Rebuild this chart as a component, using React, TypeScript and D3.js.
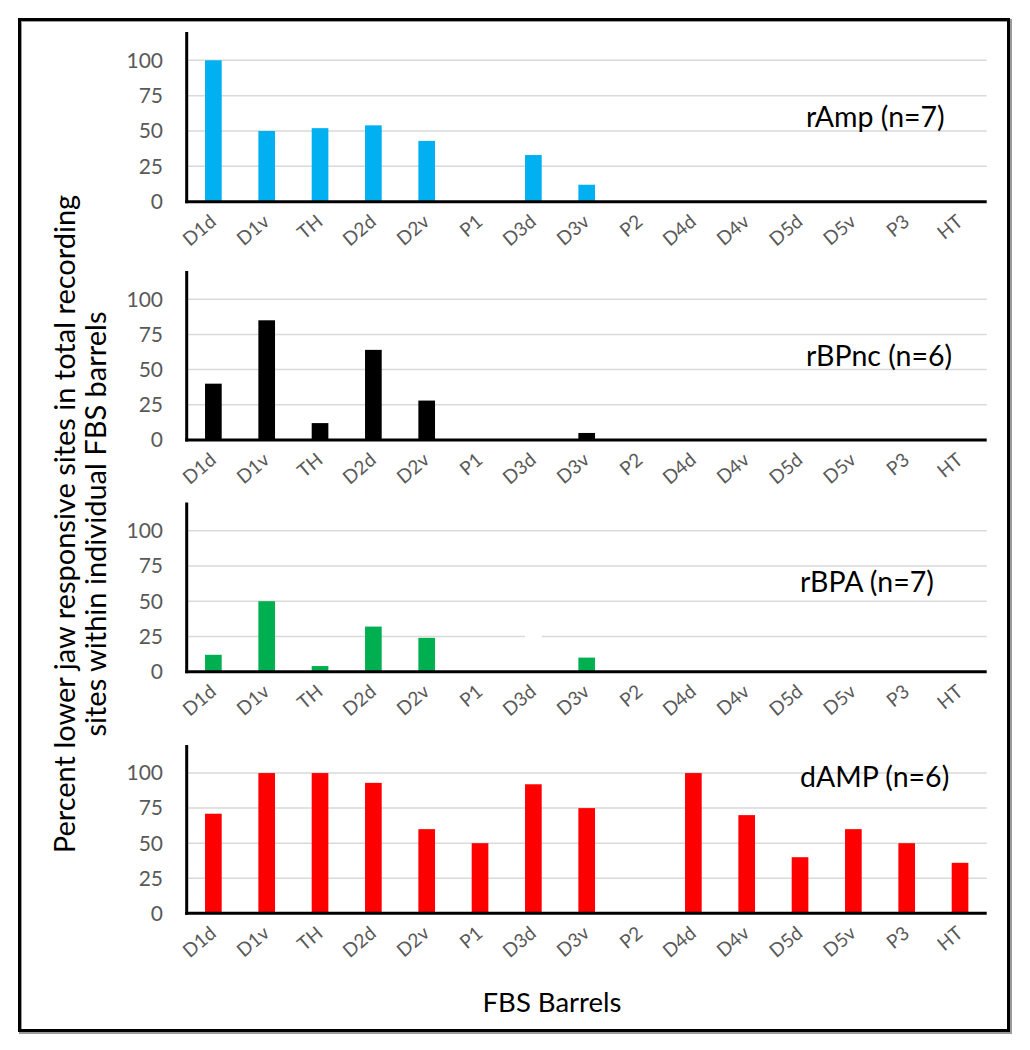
import React from "react";
import * as d3 from "d3";

const categories = ["D1d", "D1v", "TH", "D2d", "D2v", "P1", "D3d", "D3v", "P2", "D4d", "D4v", "D5d", "D5v", "P3", "HT"];
const rAmp = [100, 50, 52, 54, 43, 0, 33, 12, 0, 0, 0, 0, 0, 0, 0];
const rBPnc = [40, 85, 12, 64, 28, 0, 0, 5, 0, 0, 0, 0, 0, 0, 0];
const rBPA = [12, 50, 4, 32, 24, 0, 0, 10, 0, 0, 0, 0, 0, 0, 0];
const rBPAMasked = [0, 0, 0, 0, 0, 0, 30, 0, 0, 0, 0, 0, 0, 0, 0];
const dAMP = [71, 100, 100, 93, 60, 50, 92, 75, 0, 100, 70, 40, 60, 50, 36];
const yTicks = [0, 25, 50, 75, 100];
const panelLabels = ["rAmp (n=7)", "rBPnc (n=6)", "rBPA (n=7)", "dAMP (n=6)"];
const panelColors = ["#00b0f0", "#000000", "#00b050", "#ff0000"];

const FONT = "Lato, 'Open Sans', sans-serif";

type Panel = {
  values: number[];
  masked?: number[];
  color: string;
  label: string;
  top: number;
  zero: number;
  labelX: number;
  labelY: number;
};

const panels: Panel[] = [
  { values: rAmp, color: panelColors[0], label: panelLabels[0], top: 32, zero: 201.7, labelX: 806, labelY: 127 },
  { values: rBPnc, color: panelColors[1], label: panelLabels[1], top: 271, zero: 440, labelX: 806, labelY: 366 },
  { values: rBPA, masked: rBPAMasked, color: panelColors[2], label: panelLabels[2], top: 502.5, zero: 671.7, labelX: 800, labelY: 592 },
  { values: dAMP, color: panelColors[3], label: panelLabels[3], top: 745, zero: 913.3, labelX: 800, labelY: 787 },
];

const X0 = 186.7;
const X1 = 986.7;

function PanelChart({ p }: { p: Panel }) {
  const x = d3
    .scaleBand<string>()
    .domain(categories)
    .range([X0, X1])
    .paddingInner(0.6875)
    .paddingOuter(0.34375);
  const y = d3.scaleLinear().domain([0, 120]).range([p.zero, p.top]);
  return (
    <g>
      {yTicks.filter((t) => t > 0).map((t) => (
        <line key={"g" + t} x1={X0} x2={X1} y1={y(t)} y2={y(t)} stroke="#d9d9d9" strokeWidth={1.5} />
      ))}
      {p.masked &&
        p.masked.map((v, i) =>
          v > 0 ? (
            <rect key={"m" + i} x={x(categories[i])!} width={x.bandwidth()} y={y(v)} height={y(0) - y(v)} fill="#ffffff" />
          ) : null
        )}
      {p.values.map((v, i) =>
        v > 0 ? (
          <rect key={"b" + i} x={x(categories[i])!} width={x.bandwidth()} y={y(v)} height={y(0) - y(v)} fill={p.color} />
        ) : null
      )}
      <line x1={X0} x2={X0} y1={p.top} y2={p.zero + 1.5} stroke="#000" strokeWidth={3} />
      <line x1={X0 - 1.5} x2={X1} y1={p.zero} y2={p.zero} stroke="#000" strokeWidth={3} />
      {yTicks.map((t) => (
        <text key={"t" + t} x={163} y={y(t)} dy="0.35em" textAnchor="end" fontSize={21} fill="#595959" fontFamily={FONT}>
          {t}
        </text>
      ))}
      {categories.map((c) => {
        const cx = x(c)! + x.bandwidth() / 2 + 4;
        const cy = p.zero + 22;
        return (
          <text
            key={"c" + c}
            x={cx}
            y={cy}
            textAnchor="end"
            fontSize={19}
            fill="#595959"
            fontFamily={FONT}
            transform={`rotate(-40, ${cx}, ${cy})`}
          >
            {c}
          </text>
        );
      })}
      <text x={p.labelX} y={p.labelY} fontSize={28.5} fill="#000" fontFamily={FONT}>
        {p.label}
      </text>
    </g>
  );
}

export default function App() {
  return (
    <svg
      width={1030}
      height={1050}
      viewBox="0 0 1030 1050"
      style={{ position: "absolute", left: 0, top: 0, background: "#fff" }}
    >
      <rect x={0} y={0} width={1030} height={1050} fill="#fff" />
      <rect x={20.5} y={20.5} width={990} height={1012} fill="none" stroke="#9a9a9a" strokeWidth={3} />
      <rect x={19.5} y={19.5} width={989} height={1011} fill="none" stroke="#000" strokeWidth={3} />
      {panels.map((p, i) => (
        <PanelChart key={i} p={p} />
      ))}
      <g transform="translate(81, 524) rotate(-90)">
        <text x={0} y={-6} textAnchor="middle" fontSize={29} fill="#000" fontFamily={FONT}>
          Percent lower jaw responsive sites in total recording
        </text>
        <text x={0} y={25} textAnchor="middle" fontSize={29} fill="#000" fontFamily={FONT}>
          sites within individual FBS barrels
        </text>
      </g>
      <text x={552} y={1012} textAnchor="middle" fontSize={27.5} fill="#000" fontFamily={FONT}>
        FBS Barrels
      </text>
    </svg>
  );
}
